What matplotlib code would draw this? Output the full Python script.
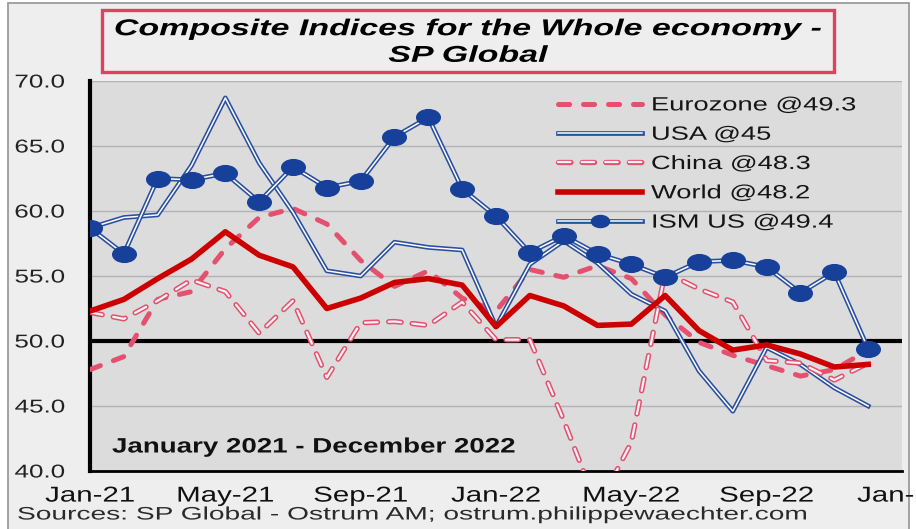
import numpy as np
import matplotlib
matplotlib.use("Agg")
import matplotlib.pyplot as plt
from matplotlib.patheffects import AbstractPathEffect
from matplotlib.transforms import Affine2D
from matplotlib.path import Path
from matplotlib.lines import Line2D
from matplotlib.legend_handler import HandlerTuple
from matplotlib.patches import Rectangle

# ---------------- data ----------------
months = ["Jan-21", "Feb-21", "Mar-21", "Apr-21", "May-21", "Jun-21", "Jul-21", "Aug-21",
          "Sep-21", "Oct-21", "Nov-21", "Dec-21", "Jan-22", "Feb-22", "Mar-22", "Apr-22",
          "May-22", "Jun-22", "Jul-22", "Aug-22", "Sep-22", "Oct-22", "Nov-22", "Dec-22"]
tick_labels = ["Jan-21", "May-21", "Sep-21", "Jan-22", "May-22", "Sep-22", "Jan-23"]
eurozone = [47.8, 48.8, 53.2, 53.8, 57.1, 59.5, 60.2, 59.0, 56.2, 54.2, 55.4, 53.3,
            52.3, 55.5, 54.9, 55.8, 54.8, 52.0, 49.9, 48.9, 48.1, 47.3, 47.8, 49.3]
usa = [58.7, 59.5, 59.7, 63.5, 68.7, 63.7, 59.9, 55.4, 55.0, 57.6, 57.2, 57.0,
       51.1, 55.9, 57.7, 56.0, 53.6, 52.3, 47.7, 44.6, 49.5, 48.2, 46.4, 45.0]
china = [52.2, 51.7, 53.1, 54.7, 53.8, 50.6, 53.1, 47.2, 51.4, 51.5, 51.2, 53.0,
         50.1, 50.1, 43.9, 37.2, 42.2, 55.3, 54.0, 53.0, 48.5, 48.3, 47.0, 48.3]
world = [52.3, 53.2, 54.8, 56.3, 58.4, 56.6, 55.7, 52.5, 53.3, 54.5, 54.8, 54.3,
         51.1, 53.5, 52.7, 51.2, 51.3, 53.5, 50.8, 49.3, 49.7, 49.0, 48.0, 48.2]
ism = [58.7, 56.7, 62.5, 62.4, 62.9, 60.7, 63.4, 61.8, 62.3, 65.7, 67.2, 61.7,
       59.6, 56.8, 58.1, 56.7, 55.9, 54.9, 56.1, 56.2, 55.7, 53.7, 55.3, 49.4]
series_labels = ["Eurozone @49.3", "USA @45", "China @48.3", "World @48.2", "ISM US @49.4"]
title_text = "Composite Indices for the Whole economy -\nSP Global"
period_text = "January 2021 - December 2022"
source_text = "Sources: SP Global - Ostrum AM; ostrum.philippewaechter.com"

# ---------------- style ----------------
PINK = "#e5506f"
RED = "#cc0000"
BLUE = "#2a4f9f"
MARK = "#17409a"
INNER = "#f3f3f3"
OUTER_BG = "#eeeeee"
PLOT_BG = "#dcdcdc"
FONT = "Liberation Sans"

plt.rcParams["lines.scale_dashes"] = False
plt.rcParams["font.family"] = [FONT, "DejaVu Sans"]


class HStretch(AbstractPathEffect):
    """Draws the text horizontally stretched (the original chart uses wide type)."""

    def __init__(self, sx, anchor="center"):
        super().__init__()
        self.sx = sx
        self.anchor = anchor

    def draw_path(self, renderer, gc, tpath, affine, rgbFace=None):
        v = tpath.vertices
        if len(v) == 0:
            return
        if tpath.codes is not None:
            xs = v[tpath.codes != Path.CLOSEPOLY, 0]
        else:
            xs = v[:, 0]
        if len(xs) == 0:
            return
        if self.anchor == "left":
            cx = 0.0
        elif self.anchor == "right":
            cx = xs.max()
        else:
            cx = 0.5 * (xs.min() + xs.max())
        pre = Affine2D().translate(-cx, 0).scale(self.sx, 1.0).translate(cx, 0)
        renderer.draw_path(gc, tpath, pre + affine, rgbFace)


W, H = 916, 529
fig = plt.figure(figsize=(W / 100, H / 100), dpi=100, facecolor="white")

# outer panel
fig.patches.append(Rectangle((8 / W, -0.05), (909 - 8) / W, 1 - 3 / H + 0.05,
                             transform=fig.transFigure, facecolor=OUTER_BG,
                             edgecolor="#9c9c9c", lw=1.3, zorder=-5))

L, R, T, B = 90, 902, 81, 471
ax = fig.add_axes([L / W, 1 - B / H, (R - L) / W, (B - T) / H])
ax.set_zorder(2)
ax.set_facecolor(PLOT_BG)

x = np.arange(len(months))

# grid and reference line
ax.set_ylim(40, 70)
ax.set_xlim(0, 24)
ax.set_yticks([40, 45, 50, 55, 60, 65, 70])
ax.set_yticklabels([f"{v:.1f}" for v in [40, 45, 50, 55, 60, 65, 70]])
ax.set_xticks(np.arange(0, 25, 4))
ax.set_xticklabels(tick_labels)
ax.yaxis.grid(True, color="#b3b3b3", lw=1.0)
ax.set_axisbelow(True)
ax.axhline(50, color="black", lw=3.0, zorder=2.5)

for s in ["top", "right"]:
    ax.spines[s].set_visible(False)
ax.spines["left"].set_linewidth(3.0)
ax.spines["bottom"].set_linewidth(2.0)
ax.tick_params(length=0)
ax.tick_params(axis="y", pad=18, labelsize=13.4, labelcolor="#222222")
ax.tick_params(axis="x", pad=10.5, labelsize=15.5, labelcolor="#111111")

EU_DASH = (8, 10)
CN_DASH = (9, 8)

# Eurozone
ax.plot(x, eurozone, color=PINK, lw=3.6, dashes=EU_DASH, dash_capstyle="round", zorder=3)
# USA (double line)
ax.plot(x, usa, color=BLUE, lw=3.4, zorder=4)
ax.plot(x, usa, color="white", lw=1.1, zorder=4.1)
# China (hollow dashed)
ax.plot(x, china, color=PINK, lw=3.8, dashes=CN_DASH, dash_capstyle="round", zorder=5)
ax.plot(x, china, color=INNER, lw=1.6, dashes=CN_DASH, dash_capstyle="round", zorder=5.1)
# World
ax.plot(x, world, color=RED, lw=4.0, solid_joinstyle="round", zorder=6)
# ISM US
ell = Path.unit_circle().transformed(Affine2D().scale(1.5, 1.0))
ax.plot(x, ism, color=BLUE, lw=3.4, zorder=7)
ax.plot(x, ism, color="white", lw=1.1, zorder=7.1)
ax.plot(x, ism, ls="none", marker=ell, ms=17, color=MARK, zorder=7.2)

# legend (proxy handles)
h_eu = Line2D([], [], color=PINK, lw=3.6, dashes=EU_DASH, dash_capstyle="round")
h_us = (Line2D([], [], color=BLUE, lw=3.4), Line2D([], [], color="white", lw=1.1))
h_cn = (Line2D([], [], color=PINK, lw=3.8, dashes=CN_DASH, dash_capstyle="round"),
        Line2D([], [], color=INNER, lw=1.6, dashes=CN_DASH, dash_capstyle="round"))
h_wd = Line2D([], [], color=RED, lw=4.0)
h_ism = (Line2D([], [], color=BLUE, lw=3.4), Line2D([], [], color="white", lw=1.1),
         Line2D([], [], ls="none", marker=ell, ms=13, color=MARK))
leg = ax.legend([h_eu, h_us, h_cn, h_wd, h_ism], series_labels,
                handler_map={tuple: HandlerTuple(ndivide=1, pad=0)},
                loc="upper left", bbox_to_anchor=(558 / W, 1 - 97 / H),
                bbox_transform=fig.transFigure, frameon=False, borderpad=0,
                borderaxespad=0, fontsize=13.8, handlelength=4.4, handletextpad=0.45,
                labelspacing=0.62, numpoints=1)
for t in leg.get_texts():
    t.set_color("#151515")
leg.set_zorder(10)

# period note
note = ax.text((112 - L) / (R - L), (B - 447) / (B - T), period_text, fontsize=15,
               fontweight="bold", ha="left", va="center", color="#111111",
               transform=ax.transAxes, zorder=11)

# title box
fig.patches.append(Rectangle((102 / W, 1 - 72 / H), (834 - 102) / W, (72 - 10) / H,
                             transform=fig.transFigure, facecolor=OUTER_BG,
                             edgecolor="#e0415f", lw=2.4, zorder=1))
title = fig.text(468 / W, 1 - 42 / H, title_text, fontsize=16.5, fontweight="bold",
                 fontstyle="italic", ha="center", va="center", linespacing=1.2,
                 color="black", zorder=3)

source = fig.text(17 / W, 1 - 515 / H, source_text, fontsize=13, ha="left",
                  va="center", color="#2a2a2a", zorder=3)

# ---- stretch text horizontally to the widths of the original ----
fig.canvas.draw()
rend = fig.canvas.get_renderer()


def stretch(texts, ref, target, anchor):
    w = ref.get_window_extent(rend).width
    sx = target / w
    for t in texts:
        t.set_path_effects([HStretch(sx, anchor)])


ylabels = ax.get_yticklabels()
stretch(ylabels, ylabels[-1], 51, "right")
xlabels = ax.get_xticklabels()
stretch(xlabels, xlabels[0], 90, "center")
ltexts = leg.get_texts()
stretch(ltexts, ltexts[0], 205, "left")
stretch([note], note, 405, "left")
stretch([title], title, 708, "center")
stretch([source], source, 788, "left")

fig.savefig("out.png", dpi=100, facecolor=fig.get_facecolor())
